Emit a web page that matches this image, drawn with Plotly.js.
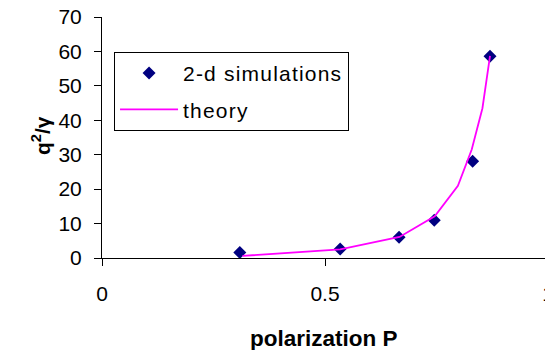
<!DOCTYPE html>
<html>
<head>
<meta charset="utf-8">
<script src="https://cdn.plot.ly/plotly-3.0.1.min.js"></script>
<style>
html,body{margin:0;padding:0;overflow:hidden;background:#fff;}
#chart{width:560px;height:350px;}
.legendtext{letter-spacing:1.2px;}
</style>
</head>
<body>
<div id="chart"></div>
<script>
// Simulation data (diamonds)
const simP = [0.309, 0.534, 0.666, 0.745, 0.831, 0.870];
const simQ = [1.6, 2.6, 6.0, 11.0, 28.1, 58.6];
// Theory curve
const theoryP = [0.315, 0.534, 0.667, 0.746, 0.798, 0.829, 0.853, 0.870];
const theoryQ = [0.6, 2.5, 6.1, 12.1, 21.0, 31.5, 43.5, 58.7];
// Tick labels
const xTicks = [0, 0.5, 1];
const xTickText = ["0", "0.5", "1"];
const yTicks = [0, 10, 20, 30, 40, 50, 60, 70];

const font = "Liberation Sans, Arial, sans-serif";
const fs = 21;

const traces = [
  {
    x: simP, y: simQ, type: "scatter", mode: "markers", name: "2-d simulations",
    marker: {symbol: "diamond", size: 10, color: "#000080"},
    legendgroup: "a", cliponaxis: false
  },
  {
    x: theoryP, y: theoryQ, type: "scatter", mode: "lines", name: "theory",
    line: {color: "#ff00ff", width: 1.8},
    legendgroup: "b", cliponaxis: false
  }
];

const layout = {
  width: 560, height: 350,
  margin: {l: 102, r: 12, t: 17, b: 92},
  paper_bgcolor: "#fff", plot_bgcolor: "#fff",
  font: {family: font, size: fs, color: "#000"},
  showlegend: true,
  legend: {
    x: 0.027, y: 0.855, xanchor: "left", yanchor: "top",
    bordercolor: "#000", borderwidth: 1, bgcolor: "#fff",
    font: {family: font, size: fs, color: "#000"},
    tracegroupgap: 6, traceorder: "grouped", itemwidth: 58
  },
  xaxis: {
    range: [0, 1], tickvals: xTicks, ticktext: xTickText,
    showgrid: false, zeroline: false, showline: true, linecolor: "#000", linewidth: 1,
    ticks: "outside", ticklen: 7, tickcolor: "#000", ticklabelstandoff: 10,
    tickfont: {family: font, size: fs}
  },
  yaxis: {
    range: [0, 70], tickvals: yTicks,
    showgrid: false, zeroline: false, showline: true, linecolor: "#000", linewidth: 1,
    ticks: "outside", ticklen: 7, tickcolor: "#000", ticklabelstandoff: 8,
    tickfont: {family: font, size: fs}
  },
  annotations: [
    {
      text: "<b>polarization P</b>", xref: "paper", yref: "paper",
      x: 0.497, y: -0.335, xanchor: "center", yanchor: "middle",
      showarrow: false, font: {family: font, size: 22.5}
    },
    {
      text: "<b>q<sup>2</sup>/γ</b>", xref: "paper", yref: "paper",
      x: -0.137, y: 0.51, xanchor: "center", yanchor: "middle", textangle: -90,
      showarrow: false, font: {family: font, size: fs}
    }
  ]
};

Plotly.newPlot("chart", traces, layout, {displayModeBar: false, staticPlot: true});
</script>
</body>
</html>
